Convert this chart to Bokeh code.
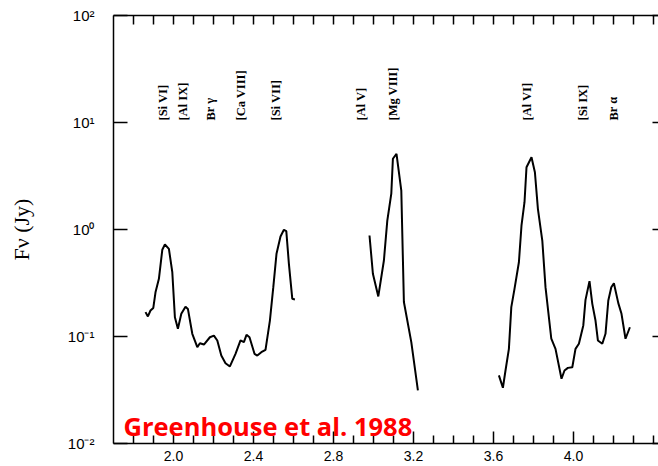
from bokeh.plotting import figure
from bokeh.models import FixedTicker, LinearAxis, LogAxis, Range1d, Label
from bokeh.embed import file_html
from bokeh.resources import INLINE

# ---- data (wavelength in micron, flux density in Jy) ----
seg1_x = [1.860, 1.872, 1.885, 1.899, 1.910, 1.927, 1.944, 1.957, 1.977, 1.994,
          2.007, 2.022, 2.039, 2.060, 2.072, 2.094, 2.119, 2.132, 2.152, 2.182,
          2.202, 2.219, 2.239, 2.260, 2.282, 2.310, 2.335, 2.352, 2.365, 2.380,
          2.405, 2.419, 2.439, 2.460, 2.482, 2.499, 2.515, 2.535, 2.552, 2.564,
          2.577, 2.594, 2.607]
seg1_y = [0.169, 0.154, 0.175, 0.185, 0.259, 0.346, 0.646, 0.724, 0.660, 0.399,
          0.151, 0.118, 0.163, 0.190, 0.181, 0.106, 0.0794, 0.0865, 0.0841, 0.0984,
          0.102, 0.0918, 0.0664, 0.0563, 0.0525, 0.0689, 0.0918, 0.0885, 0.1037, 0.0984,
          0.0689, 0.0664, 0.0713, 0.0751, 0.141, 0.289, 0.593, 0.861, 0.993, 0.964,
          0.478, 0.225, 0.222]

seg2_x = [2.980, 2.997, 3.024, 3.052, 3.069, 3.089, 3.097, 3.115, 3.139, 3.152,
          3.189, 3.222]
seg2_y = [0.879, 0.386, 0.237, 0.513, 1.21, 2.16, 4.58, 5.10, 2.31, 0.210,
          0.0885, 0.0313]

seg3_x = [3.627, 3.647, 3.660, 3.677, 3.689, 3.705, 3.727, 3.740, 3.755, 3.765,
          3.790, 3.807, 3.822, 3.844, 3.860, 3.889, 3.910, 3.940, 3.955, 3.972,
          3.994, 4.010, 4.027, 4.049, 4.060, 4.080, 4.094, 4.110, 4.122, 4.144,
          4.160, 4.174, 4.189, 4.202, 4.224, 4.240, 4.260, 4.282]
seg3_y = [0.0433, 0.0332, 0.0481, 0.0767, 0.188, 0.279, 0.494, 1.09, 1.80, 3.82,
          4.74, 3.43, 1.56, 0.789, 0.289, 0.0953, 0.0767, 0.0403, 0.0481, 0.0509,
          0.0516, 0.0767, 0.0855, 0.127, 0.220, 0.329, 0.202, 0.141, 0.0918, 0.0855,
          0.106, 0.217, 0.289, 0.315, 0.205, 0.163, 0.0953, 0.122]

line_names = ["[Si VI]", "[Al IX]", "Br \u03b3", "[Ca VIII]", "[Si VII]",
              "[Al V]", "[Mg VIII]", "[Al VI]", "[Si IX]", "Br \u03b1"]
line_x = [1.950, 2.050, 2.185, 2.338, 2.513, 2.940, 3.100, 3.770, 4.047, 4.200]

x_ticks = [2.0, 2.4, 2.8, 3.2, 3.6, 4.0]
x_tick_labels = ["2.0", "2.4", "2.8", "3.2", "3.6", "4.0"]
x_minor = [1.8, 1.9, 2.1, 2.2, 2.3, 2.5, 2.6, 2.7, 2.9, 3.0, 3.1, 3.3, 3.4, 3.5,
           3.7, 3.8, 3.9, 4.1, 4.2, 4.3, 4.4]
y_ticks = [0.01, 0.1, 1.0, 10.0, 100.0]
y_tick_labels = ["10\u207b\u00b2", "10\u207b\u00b9", "10\u2070", "10\u00b9", "10\u00b2"]

credit = "Greenhouse et al. 1988"

# ---- figure ----
p = figure(width=658, height=466, x_range=Range1d(1.7, 4.425),
           y_range=Range1d(0.01, 100), y_axis_type="log",
           output_backend="svg", toolbar_location=None,
           min_border_left=113, min_border_right=0, min_border_top=15,
           min_border_bottom=23)
p.grid.visible = False
p.outline_line_color = None
p.background_fill_color = "white"
p.border_fill_color = "white"

for xs, ys in [(seg1_x, seg1_y), (seg2_x, seg2_y), (seg3_x, seg3_y)]:
    p.line(xs, ys, line_color="black", line_width=2)

# bottom axis
xa = p.xaxis[0]
xa.ticker = FixedTicker(ticks=x_ticks, minor_ticks=x_minor)
xa.major_label_overrides = {t: s for t, s in zip(x_ticks, x_tick_labels)}
xa.major_tick_in = 12
xa.major_tick_out = 0
xa.minor_tick_in = 8
xa.minor_tick_out = 0
xa.major_label_standoff = 7
xa.axis_label_standoff = 0
xa.major_label_text_font = "Liberation Sans"
xa.major_label_text_font_size = "14px"
xa.major_label_text_color = "black"
xa.axis_line_width = 1.5
xa.major_tick_line_width = 1.5
xa.minor_tick_line_width = 1.5

# top axis (ticks only, all drawn as unlabeled minor ticks)
ta = LinearAxis(ticker=FixedTicker(ticks=[], minor_ticks=sorted(x_ticks + x_minor)))
ta.major_tick_in = 0
ta.major_tick_out = 0
ta.minor_tick_in = 9
ta.minor_tick_out = 0
ta.major_label_standoff = 0
ta.axis_label_standoff = 0
ta.axis_line_width = 1.5
ta.minor_tick_line_width = 1.5
p.add_layout(ta, "above")

# right axis (inward ticks only; its spine lies just beyond the picture)
ra = LogAxis(ticker=FixedTicker(ticks=[], minor_ticks=y_ticks))
ra.major_tick_in = 0
ra.major_tick_out = 0
ra.minor_tick_in = 6
ra.minor_tick_out = 0
ra.major_label_standoff = 0
ra.axis_label_standoff = 0
ra.axis_line_color = None
ra.minor_tick_line_width = 1.5
p.add_layout(ra, "right")

# left axis
ya = p.yaxis[0]
ya.ticker = FixedTicker(ticks=y_ticks, minor_ticks=[])
ya.major_label_overrides = {t: s for t, s in zip(y_ticks, y_tick_labels)}
ya.major_tick_in = 14
ya.major_tick_out = 0
ya.minor_tick_line_color = None
ya.major_label_standoff = 19
ya.major_label_text_font = "Liberation Sans"
ya.major_label_text_font_size = "15px"
ya.major_label_text_color = "black"
ya.axis_line_width = 1.5
ya.major_tick_line_width = 1.5
ya.axis_label = "F\u03bd (Jy)"
ya.axis_label_text_font = "Liberation Serif"
ya.axis_label_text_font_style = "normal"
ya.axis_label_text_font_size = "22px"
ya.axis_label_text_color = "black"
ya.axis_label_standoff = 31

# line identifications
for name, lx in zip(line_names, line_x):
    p.add_layout(Label(x=lx, y=10.44, text=name, angle=1.5708,
                       text_align="left", text_baseline="middle",
                       text_font="Liberation Serif", text_font_style="bold",
                       text_font_size="12.5px", text_color="black"))

# credit
p.add_layout(Label(x=1.75, y=0.0147, text=credit, text_align="left",
                   text_baseline="alphabetic", text_font="Open Sans",
                   text_font_style="bold", text_font_size="25.5px",
                   text_color="#ff0000"))

open("out.html", "w").write(file_html(p, INLINE))
